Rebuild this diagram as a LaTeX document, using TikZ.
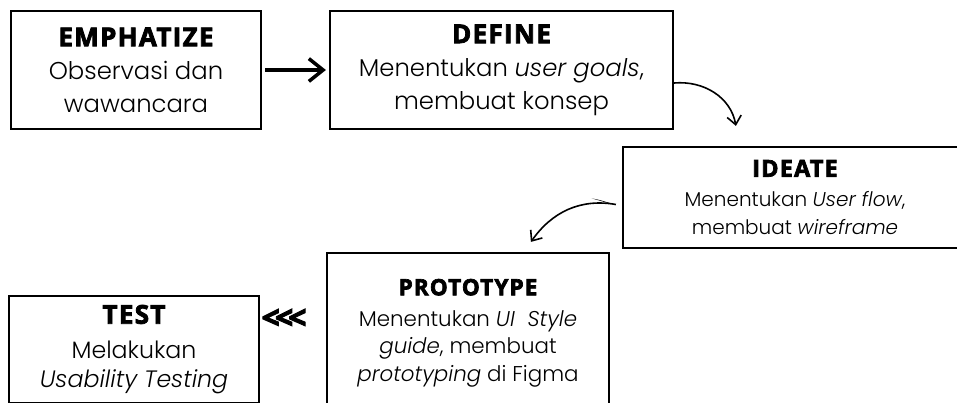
\documentclass[tikz,border=0pt]{standalone}
\usepackage{fontspec}
\setmainfont{Poppins}[UprightFont=* Light, ItalicFont=* Light Italic]
\newfontfamily\headfont{Open Sans}[BoldFeatures={FakeBold=3}, LetterSpace=5]
\usetikzlibrary{arrows.meta,positioning}
\tikzset{%
  >={Straight Barb[length=3mm,width=5mm]},
  % Specifications for style of nodes:
       phase/.style = {rectangle, draw=black, line width=2.2pt,
                       align=center, inner sep=0pt, text centered},
   phaseLarge/.style = {phase, font=\fontsize{24.3}{33}\selectfont},
   phaseSmall/.style = {phase, font=\fontsize{20}{28}\selectfont},
   phaseProto/.style = {phase, font=\fontsize{21.4}{27.5}\selectfont},
    phaseTest/.style = {phase, font=\fontsize{23.7}{29}\selectfont},
   % connectors
       thick arrow/.style = {line width=3.5pt, ->, >={Straight Barb[length=5mm,width=8mm]}},
       curvy/.style = {line width=1.6pt, ->},
}

\begin{document}
\begin{tikzpicture}[x=1pt, y=-1pt]

\useasboundingbox (0,0) rectangle (957,403);
\clip (0,0) rectangle (957,403);

\node (emph)   [phaseLarge, minimum width=250pt, minimum height=118pt] at (136,70)
  {{\headfont\bfseries\fontsize{26}{33}\selectfont EMPHATIZE}\\
   Observasi dan\\ wawancara};

\node (define) [phaseLarge, minimum width=343pt, minimum height=118pt] at (501.5,70)
  {{\headfont\bfseries\fontsize{26}{33}\selectfont DEFINE}\\
   Menentukan \textit{user goals},\\ membuat konsep};

\node (ideate) [phaseSmall, minimum width=344pt, minimum height=101pt] at (795,197.5)
  {{\headfont\bfseries\fontsize{23.5}{28}\selectfont IDEATE}\\[2pt]
   Menentukan \textit{User flow},\\ membuat \textit{wireframe}};

\node (proto)  [phaseProto, minimum width=282pt, minimum height=160pt] at (468,333)
  {{\headfont\bfseries\fontsize{22.5}{28}\selectfont PROTOTYPE}\\[3.5pt]
   Menentukan \textit{UI\ \ Style}\\ \textit{guide}, membuat\\
   \textit{prototyping} di Figma};

\node (test)   [phaseTest, minimum width=250pt, minimum height=107pt] at (134,349.5)
  {{\headfont\bfseries\fontsize{26}{29}\selectfont TEST}\\[6pt]
   Melakukan\\ \textit{Usability Testing}};

\node (back) [inner sep=0pt,
  font=\headfont\bfseries\fontsize{32}{32}\selectfont\addfontfeature{LetterSpace=0}]
  at (284,319) {<\kern-5pt<\kern-5pt<};

\draw[thick arrow, shorten <=3pt, shorten >=3pt] (emph.east) -- (define.west);
\draw[curvy] ([yshift=-13pt]define.east) to[out=5, in=100]
  ([xshift=114pt, yshift=20pt]ideate.north west);
\draw[curvy] ([xshift=-6pt, yshift=-7pt]ideate.west) to[out=170, in=55]
  ([xshift=205pt, yshift=10pt]proto.north west);
% tapered start of the lower curve
\fill ([xshift=-6pt, yshift=-7pt]ideate.west) to[out=168, in=-8] ++(-24,-6)
  to[out=-14, in=172] ([xshift=-6pt, yshift=-7pt]ideate.west);
\end{tikzpicture}
\end{document}
